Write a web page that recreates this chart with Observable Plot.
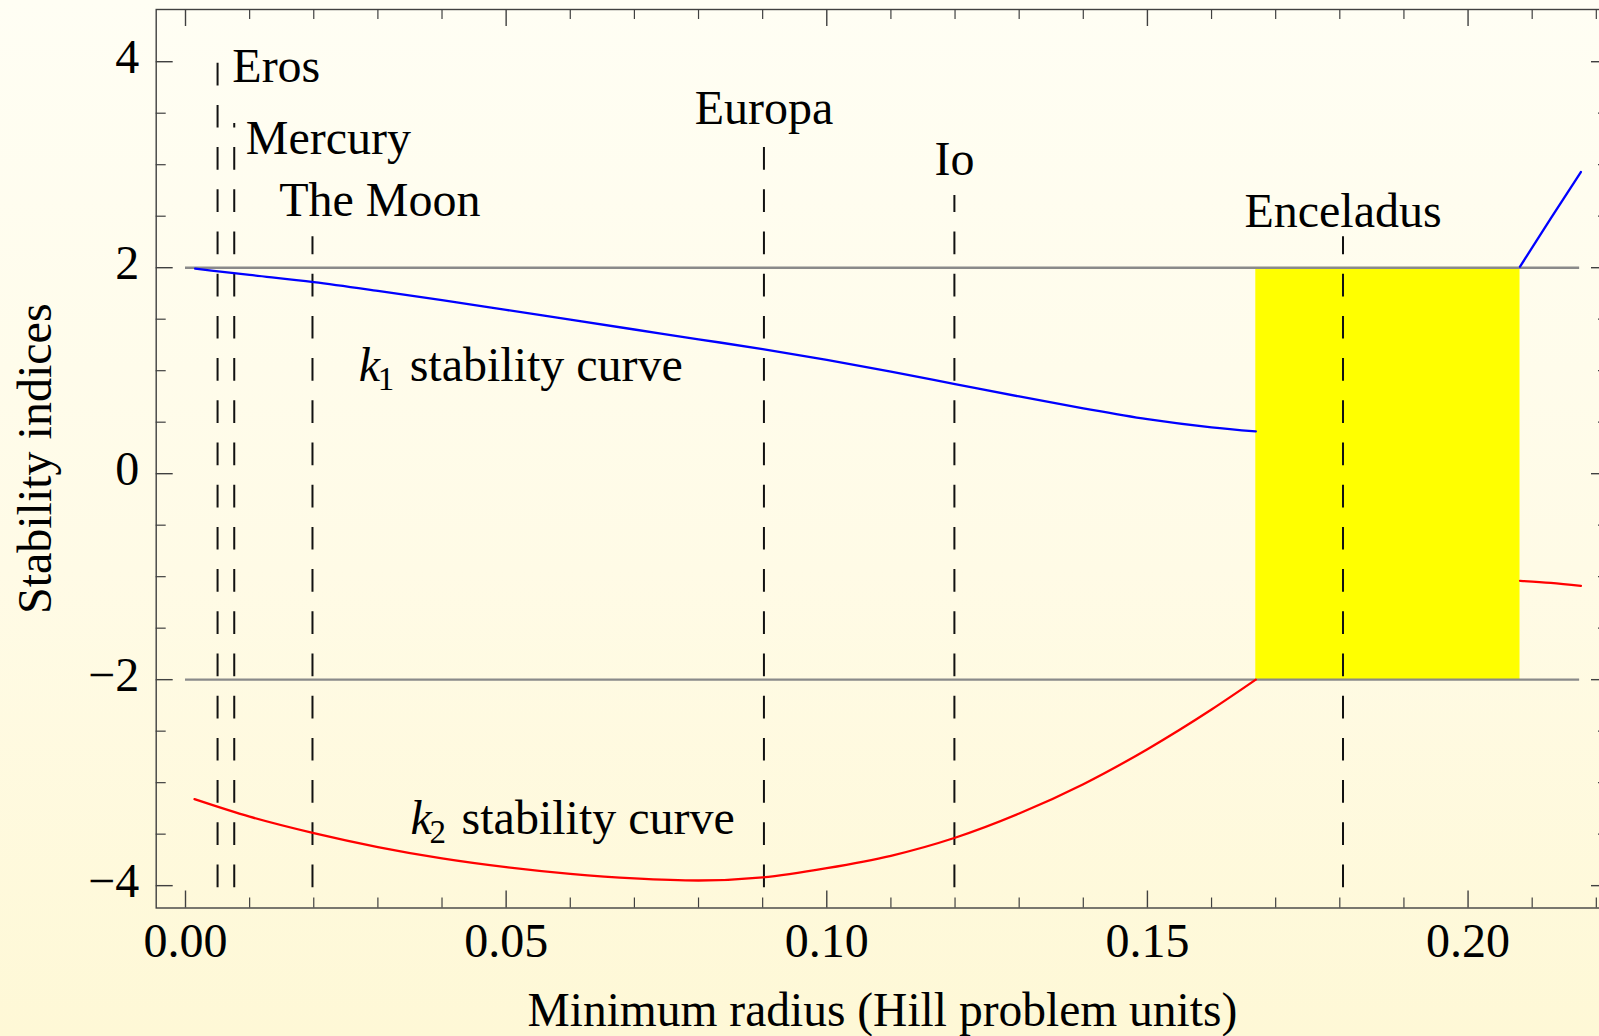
<!DOCTYPE html>
<html>
<head>
<meta charset="utf-8">
<script src="https://cdn.jsdelivr.net/npm/d3@7"></script>
<script src="https://cdn.jsdelivr.net/npm/@observablehq/plot@0.6"></script>
<style>
  html, body { margin: 0; padding: 0; overflow: hidden; width: 1599px; height: 1036px; }
  body { background: linear-gradient(to bottom, #fffef4 0%, #fffbe6 55%, #fef8d6 100%); }
  #chart svg { display: block; max-width: none !important; }
</style>
</head>
<body>
<div id="chart"></div>
<script>
// k1 stability index along the family, before the unstable band
const k1Radius = [0.0015, 0.01, 0.02, 0.03, 0.04, 0.05, 0.06, 0.07, 0.08, 0.09, 0.10, 0.11, 0.12, 0.13, 0.14, 0.15, 0.16, 0.1669];
const k1Index  = [1.99, 1.93, 1.86, 1.775, 1.685, 1.59, 1.495, 1.40, 1.305, 1.21, 1.105, 0.99, 0.87, 0.75, 0.635, 0.53, 0.45, 0.41];
// k1 after the unstable band
const k1TailRadius = [0.2081, 0.2129, 0.2176];
const k1TailIndex  = [2.01, 2.48, 2.93];

// k2 stability index along the family, before the unstable band
const k2Radius = [0.0014, 0.01, 0.02, 0.03, 0.04, 0.05, 0.06, 0.07, 0.08, 0.09, 0.10, 0.11, 0.12, 0.13, 0.14, 0.15, 0.16, 0.1669];
const k2Index  = [-3.16, -3.33, -3.49, -3.625, -3.735, -3.82, -3.885, -3.93, -3.95, -3.92, -3.83, -3.71, -3.535, -3.30, -3.015, -2.675, -2.29, -2.0];
// k2 after the unstable band
const k2TailRadius = [0.2081, 0.2129, 0.2176];
const k2TailIndex  = [-1.04, -1.06, -1.09];

// Bodies marked on the radius axis
const moonNames  = ["Eros", "Mercury", "The Moon", "Europa", "Io", "Enceladus"];
const moonRadius = [0.0050, 0.0076, 0.0198, 0.0902, 0.1199, 0.1805];
const moonTop    = [4.0, 3.4, 2.3, 3.2, 2.7, 2.3];
const moonBottom = -4.02;
const labelX     = [0.0073, 0.0094, 0.0146, 0.0902, 0.1199, 0.1805];
const labelY     = [3.8, 3.1, 2.5, 3.4, 2.9, 2.4];
const labelAlign = ["start", "start", "start", "middle", "middle", "middle"];

// Unstable band and the |k| = 2 stability limits
const bandRadius = [0.1669, 0.2081];
const bandIndex  = [-2, 2];
const stabilityLimits = [-2, 2];
const limitRadius = [0, 0.2174];

// Curve annotations
const curveNames = ["1", "2"];
const curveLabelX = [0.0270, 0.0351];
const curveLabelY = [0.9, -3.5];

// Frame ticks
const xMajor = [0, 0.05, 0.10, 0.15, 0.20];
const xMinor = [0.01, 0.02, 0.03, 0.04, 0.06, 0.07, 0.08, 0.09, 0.11, 0.12, 0.13, 0.14, 0.16, 0.17, 0.18, 0.19, 0.21, 0.22];
const yMajor = [-4, -2, 0, 2, 4];
const yMinor = [-3.5, -3, -2.5, -1.5, -1, -0.5, 0.5, 1, 1.5, 2.5, 3, 3.5];

const W = 1620, H = 1036;
const mL = 155.7, mR = 12, mT = 9, mB = 128.5;
const frameW = W - mL - mR, frameH = H - mT - mB;
const font = "'Liberation Serif', 'Times New Roman', serif";
const fs = 48;
const frameColor = "#404040";

const k1 = k1Radius.map((r, i) => ({r, k: k1Index[i]}));
const k1Tail = k1TailRadius.map((r, i) => ({r, k: k1TailIndex[i]}));
const k2 = k2Radius.map((r, i) => ({r, k: k2Index[i]}));
const k2Tail = k2TailRadius.map((r, i) => ({r, k: k2TailIndex[i]}));
const moons = moonNames.map((name, i) => ({
  name, r: moonRadius[i], top: moonTop[i], lx: labelX[i], ly: labelY[i], align: labelAlign[i]
}));
const curveLabels = curveNames.map((n, i) => ({n, x: curveLabelX[i], y: curveLabelY[i]}));

const chart = Plot.plot({
  width: W,
  height: H,
  marginLeft: mL,
  marginRight: mR,
  marginTop: mT,
  marginBottom: mB,
  style: {background: "transparent", fontFamily: font, fontSize: fs + "px", color: "#000"},
  x: {domain: [-0.00457, 0.2219]},
  y: {domain: [-4.217, 4.507]},
  marks: [
    // unstable region
    Plot.rect([0], {x1: bandRadius[0], x2: bandRadius[1], y1: bandIndex[0], y2: bandIndex[1], fill: "#ffff00"}),
    // |k| = 2 limits
    Plot.ruleY(stabilityLimits, {y: d => d, x1: limitRadius[0], x2: limitRadius[1], stroke: "#8a8a8a", strokeWidth: 2.4}),
    // body markers
    Plot.ruleX(moons, {x: "r", y1: () => moonBottom, y2: "top", stroke: "#111", strokeWidth: 2, strokeDasharray: "22.7,19.5"}),
    Plot.text(moons.filter(d => d.align === "start"), {x: "lx", y: "ly", text: "name", textAnchor: "start", lineAnchor: "bottom", fontSize: fs, fill: "#000"}),
    Plot.text(moons.filter(d => d.align === "middle"), {x: "lx", y: "ly", text: "name", textAnchor: "middle", lineAnchor: "bottom", fontSize: fs, fill: "#000"}),
    // stability curves
    Plot.line(k1, {x: "r", y: "k", stroke: "#0000ff", strokeWidth: 2.3, curve: "monotone-x"}),
    Plot.line(k1Tail, {x: "r", y: "k", stroke: "#0000ff", strokeWidth: 2.3, curve: "monotone-x"}),
    Plot.line(k2, {x: "r", y: "k", stroke: "#ff0000", strokeWidth: 2.3, curve: "monotone-x"}),
    Plot.line(k2Tail, {x: "r", y: "k", stroke: "#ff0000", strokeWidth: 2.3, curve: "monotone-x"}),
    // curve labels: k with subscript, then the words
    Plot.text(curveLabels, {x: "x", y: "y", text: () => "k", fontStyle: "italic", textAnchor: "start", lineAnchor: "bottom", fontSize: fs, fill: "#000"}),
    Plot.text(curveLabels, {x: "x", y: "y", text: "n", textAnchor: "start", lineAnchor: "bottom", fontSize: 33, dx: 19, dy: 9, fill: "#000"}),
    Plot.text(curveLabels, {x: "x", y: "y", text: () => "stability curve", textAnchor: "start", lineAnchor: "bottom", fontSize: fs, dx: 51, fill: "#000"}),
    // frame and inward ticks
    Plot.frame({stroke: frameColor, strokeWidth: 1.4}),
    Plot.tickX(xMajor, {x: d => d, insetTop: frameH - 17, stroke: frameColor, strokeWidth: 1.4}),
    Plot.tickX(xMinor, {x: d => d, insetTop: frameH - 10, stroke: frameColor, strokeWidth: 1.2}),
    Plot.tickX(xMajor, {x: d => d, insetBottom: frameH - 17, stroke: frameColor, strokeWidth: 1.4}),
    Plot.tickX(xMinor, {x: d => d, insetBottom: frameH - 10, stroke: frameColor, strokeWidth: 1.2}),
    Plot.tickY(yMajor, {y: d => d, insetRight: frameW - 17, stroke: frameColor, strokeWidth: 1.4}),
    Plot.tickY(yMinor, {y: d => d, insetRight: frameW - 10, stroke: frameColor, strokeWidth: 1.2}),
    Plot.tickY(yMajor, {y: d => d, insetLeft: frameW - 17, stroke: frameColor, strokeWidth: 1.4}),
    Plot.tickY(yMinor, {y: d => d, insetLeft: frameW - 10, stroke: frameColor, strokeWidth: 1.2}),
    // tick labels
    Plot.axisX({ticks: xMajor, tickSize: 0, tickPadding: 14.5, tickFormat: d3.format(".2f"), fontSize: fs, label: null, fill: "#000"}),
    Plot.axisY({ticks: yMajor, tickSize: 0, tickPadding: 17, tickFormat: d3.format("d"), fontSize: fs, label: null, dy: -4, fill: "#000"}),
    // axis titles
    Plot.text(["Minimum radius (Hill problem units)"], {frameAnchor: "bottom", text: d => d, textAnchor: "middle", lineAnchor: "bottom", dy: 117.5, fontSize: 47.5, fill: "#000"}),
    Plot.text(["Stability indices"], {frameAnchor: "left", text: d => d, rotate: -90, textAnchor: "middle", lineAnchor: "bottom", dx: -105.7, fontSize: fs, fill: "#000"})
  ]
});

chart.style.maxWidth = "none";
document.getElementById("chart").appendChild(chart);
</script>
</body>
</html>
